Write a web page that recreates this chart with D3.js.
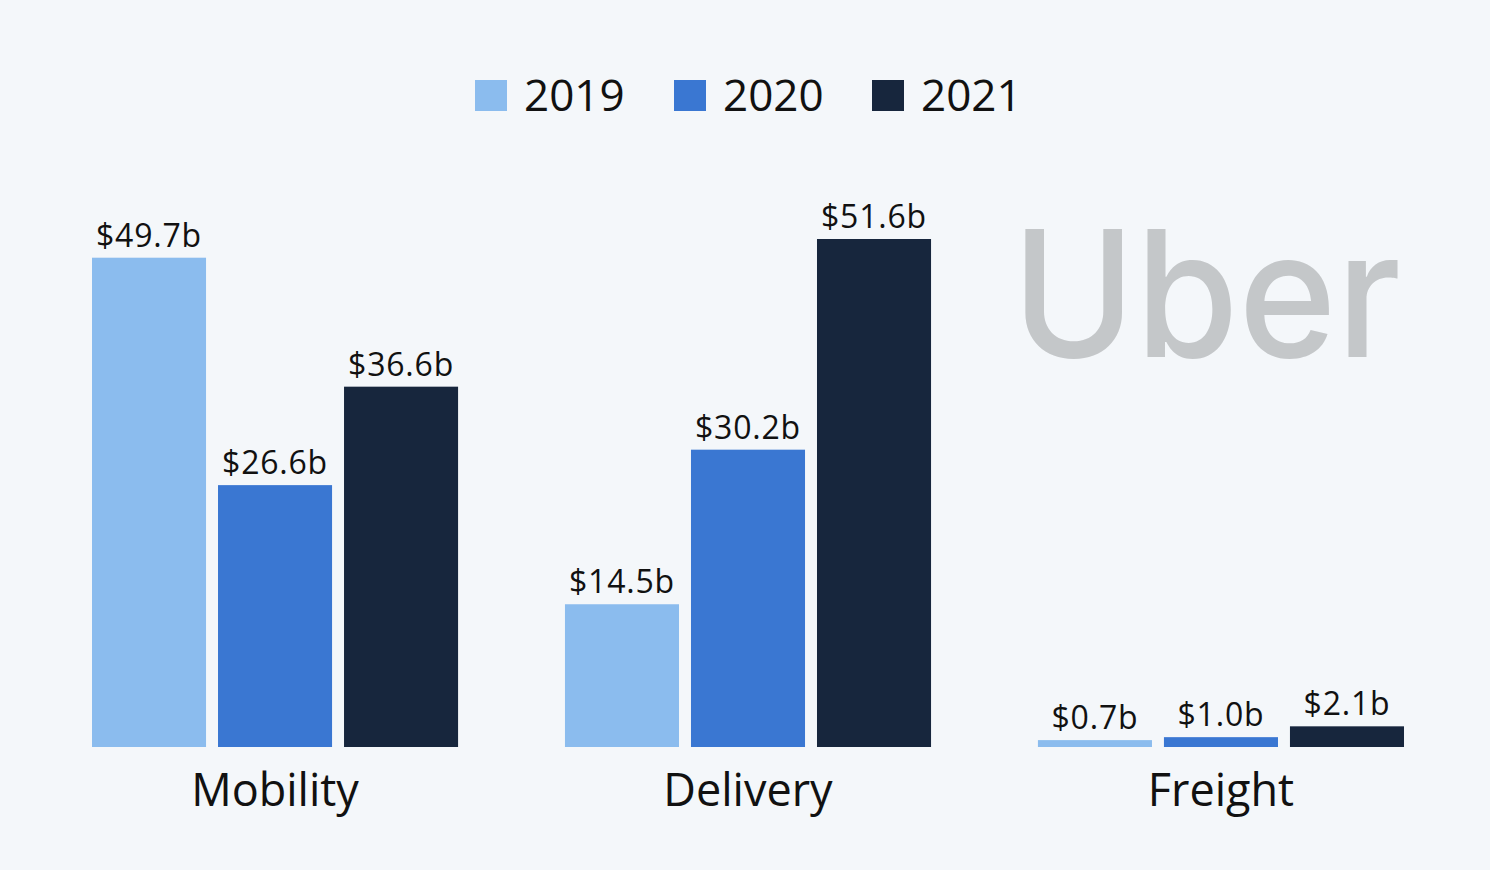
<!DOCTYPE html>
<html><head><meta charset="utf-8">
<script src="https://cdn.jsdelivr.net/npm/d3@7"></script>
<style>html,body{margin:0;padding:0;background:#f4f7fa;}svg{display:block;}</style>
</head><body>
<svg id="chart" width="1490" height="870"></svg>
<script>
const categories = ["Mobility", "Delivery", "Freight"];
const years = ["2019", "2020", "2021"];
const values2019 = [49.7, 14.5, 0.7];
const values2020 = [26.6, 30.2, 1.0];
const values2021 = [36.6, 51.6, 2.1];
const valueLabels2019 = ["$49.7b", "$14.5b", "$0.7b"];
const valueLabels2020 = ["$26.6b", "$30.2b", "$1.0b"];
const valueLabels2021 = ["$36.6b", "$51.6b", "$2.1b"];

const colors = {"2019": "#8bbcee", "2020": "#3a77d2", "2021": "#17263d"};
const seriesValues = {"2019": values2019, "2020": values2020, "2021": values2021};
const seriesLabels = {"2019": valueLabels2019, "2020": valueLabels2020, "2021": valueLabels2021};

const svg = d3.select("#chart");
const font = "'Open Sans', 'Noto Sans', sans-serif";

const pi = 0.226;
const x0 = d3.scaleBand().domain(categories)
  .range([92 - 473 * pi / 2, 1404 + 473 * pi / 2])
  .paddingInner(pi).paddingOuter(pi / 2);
const x1 = d3.scaleBand().domain(years).range([0, x0.bandwidth()]).paddingInner(0.095).paddingOuter(0);
const y = d3.scaleLinear().domain([0, 51.6]).range([747, 239]);

// Uber logo
svg.append("text")
  .attr("x", 1012).attr("y", 357)
  .attr("font-family", "Inter, 'Open Sans', sans-serif")
  .attr("font-weight", 500)
  .attr("font-size", 176)
  .attr("fill", "#c4c7c9")
  .attr("textLength", 389)
  .attr("lengthAdjust", "spacingAndGlyphs")
  .text("Uber");

const data = [];
categories.forEach((c, i) => years.forEach(yr => data.push({cat: c, year: yr, v: seriesValues[yr][i], label: seriesLabels[yr][i]})));

const g = svg.append("g");
g.selectAll("rect.bar").data(data).join("rect")
  .attr("class", "bar")
  .attr("x", d => x0(d.cat) + x1(d.year))
  .attr("y", d => y(d.v))
  .attr("width", x1.bandwidth())
  .attr("height", d => y(0) - y(d.v))
  .attr("fill", d => colors[d.year]);

g.selectAll("text.val").data(data).join("text")
  .attr("class", "val")
  .attr("x", d => x0(d.cat) + x1(d.year) + x1.bandwidth() / 2)
  .attr("y", d => y(d.v) - 11)
  .attr("text-anchor", "middle")
  .attr("font-family", font)
  .attr("font-size", 32)
  .attr("letter-spacing", 0.8)
  .attr("fill", "#111")
  .text(d => d.label);

// category axis
const xAxis = d3.axisBottom(x0).tickSize(0).tickPadding(0);
const ax = svg.append("g").attr("transform", "translate(0,747)").call(xAxis);
ax.select(".domain").remove();
ax.selectAll("text")
  .attr("y", 59).attr("dy", 0)
  .attr("font-family", font)
  .attr("font-size", 45)
  .attr("fill", "#111");

// legend
const legendX = [475, 674, 872];
const lg = svg.append("g");
years.forEach((yr, i) => {
  lg.append("rect").attr("x", legendX[i]).attr("y", 80).attr("width", 32).attr("height", 31).attr("fill", colors[yr]);
  lg.append("text").attr("x", legendX[i] + 49).attr("y", 111)
    .attr("font-family", font).attr("font-size", 44).attr("fill", "#111").text(yr);
});
</script>
</body></html>
